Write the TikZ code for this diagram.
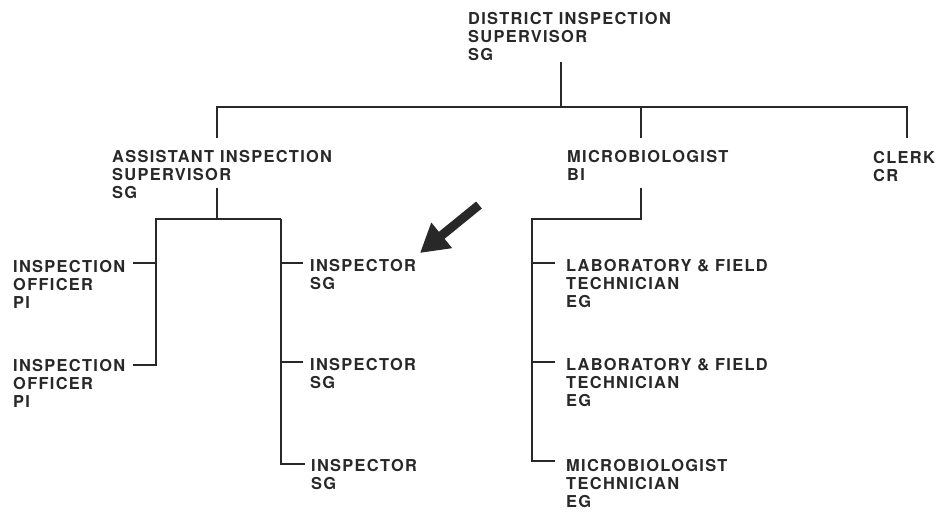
\documentclass[tikz,border=0pt]{standalone}
\usepackage{fontspec}
\setmainfont{TeX Gyre Heros}[LetterSpace=8]
\usepackage{xcolor}
\definecolor{ink}{RGB}{40,40,40}
\usetikzlibrary{arrows.meta}

\begin{document}
\begin{tikzpicture}[x=1pt,y=-1pt,
  post/.style={anchor=north west,inner sep=0pt,align=left,text=ink,font=\fontsize{16.4}{18}\selectfont\bfseries},
  link/.style={draw=ink,line width=1.6pt},
  pointer/.style={draw=ink,line width=9pt,-{Triangle[length=28pt,width=31pt]}}]
\useasboundingbox (0,0) rectangle (937,513);
\node (dist) at (468,12) [post]{DISTRICT INSPECTION\\SUPERVISOR\\SG};
\node (asst) at (112,150) [post]{ASSISTANT INSPECTION\\SUPERVISOR\\SG};
\node (micro) at (567,150) [post]{MICROBIOLOGIST\\BI};
\node (clerk) at (873,151) [post]{CLERK\\CR};
\node (off1) at (13,260) [post]{INSPECTION\\OFFICER\\PI};
\node (off2) at (13,359) [post]{INSPECTION\\OFFICER\\PI};
\node (insp1) at (310,259) [post]{INSPECTOR\\SG};
\node (insp2) at (310,358) [post]{INSPECTOR\\SG};
\node (insp3) at (311,459) [post]{INSPECTOR\\SG};
\node (lab1) at (566,259) [post]{LABORATORY \& FIELD\\TECHNICIAN\\EG};
\node (lab2) at (566,358) [post]{LABORATORY \& FIELD\\TECHNICIAN\\EG};
\node (mtech) at (566,459) [post]{MICROBIOLOGIST\\TECHNICIAN\\EG};
% junctions
\coordinate (dist-out) at (561,62);
\coordinate (bus) at (561,107);
\coordinate (asst-in) at (217,138);
\coordinate (micro-in) at (641,138);
\coordinate (clerk-in) at (907,138);
\coordinate (asst-out) at (217,188);
\coordinate (asst-j) at (217,219);
\coordinate (al) at (156,219);
\coordinate (ar) at (281,219);
\coordinate (off1-in) at (133,263);
\coordinate (off2-in) at (133,365);
\coordinate (insp1-in) at (303,263);
\coordinate (insp2-in) at (303,362);
\coordinate (insp3-in) at (305,464);
\coordinate (micro-out) at (641,188);
\coordinate (micro-j) at (641,219);
\coordinate (mb) at (532,219);
\coordinate (lab1-in) at (555,263);
\coordinate (lab2-in) at (555,362);
\coordinate (mtech-in) at (555,461);
\coordinate (tail) at (479,205);
\coordinate (tip) at (420,253);
% connectors
\draw[link] (dist-out) -- (bus);
\draw[link] (asst-in) -- (asst-in |- bus) -- (clerk-in |- bus) -- (clerk-in);
\draw[link] (micro-in |- bus) -- (micro-in);
\draw[link] (asst-out) -- (asst-j);
\draw[link] (ar) -- (al) |- (off2-in);
\draw[link] (ar) |- (insp3-in);
\draw[link] (off1-in) -- (off1-in -| al);
\draw[link] (insp1-in) -- (insp1-in -| ar);
\draw[link] (insp2-in) -- (insp2-in -| ar);
\draw[link] (micro-out) -- (micro-j) -- (mb) |- (mtech-in);
\draw[link] (lab1-in) -- (lab1-in -| mb);
\draw[link] (lab2-in) -- (lab2-in -| mb);
\draw[pointer] (tail) -- (tip);
\end{tikzpicture}
\end{document}
